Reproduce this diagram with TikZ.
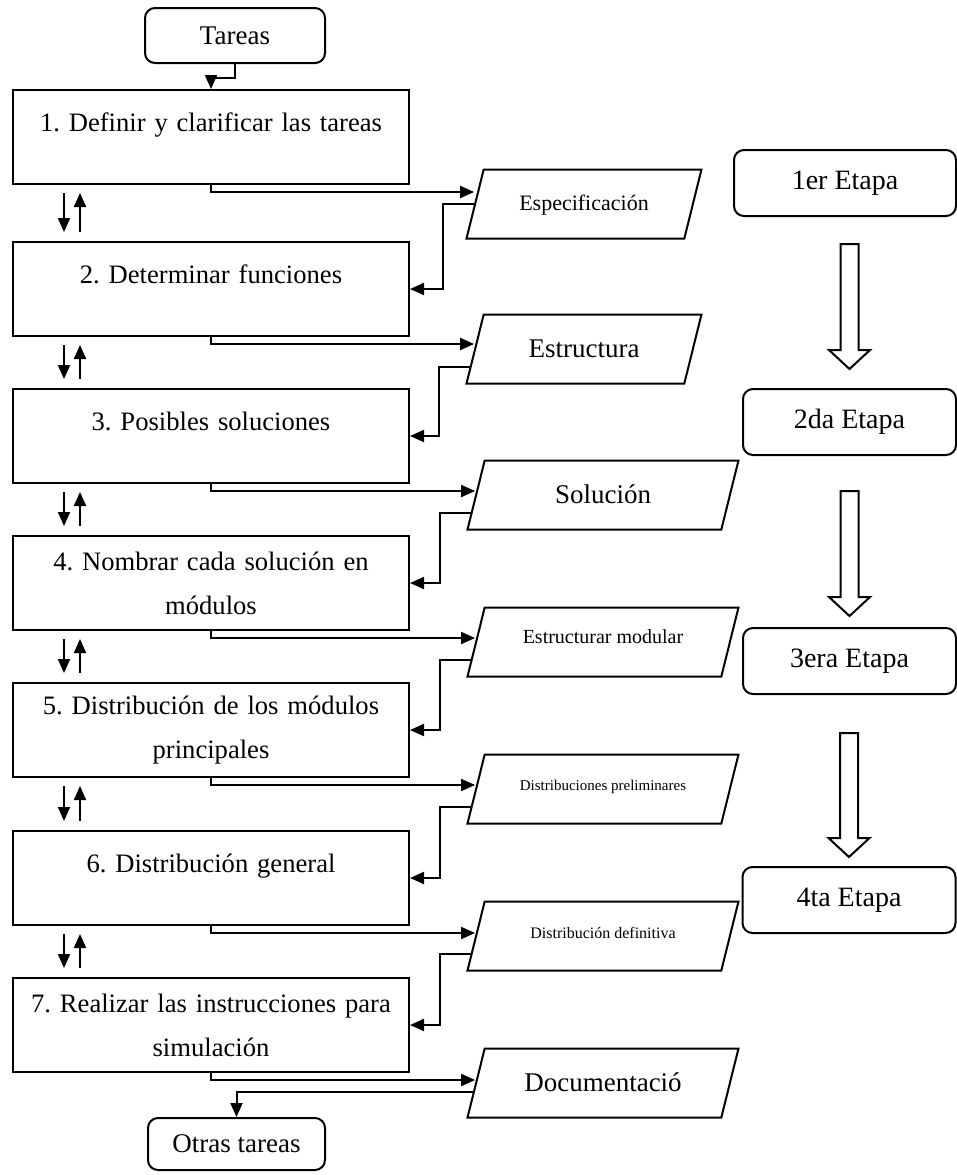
\documentclass[tikz,border=0pt]{standalone}
\usepackage{fontspec}
\setmainfont{Liberation Serif}
\usepackage{tikz}
\usetikzlibrary{shapes.geometric,arrows.meta,calc}
\frenchspacing

\begin{document}
\begin{tikzpicture}[x=0.5pt, y=-0.5pt,
    box/.style={rectangle, draw, line width=1pt, minimum width=198pt, minimum height=47pt, text width=190pt, align=center, inner sep=0pt, font=\fontsize{13.3}{22}\selectfont},
    para/.style={trapezium, draw, line width=1pt, trapezium left angle=76, trapezium right angle=104, trapezium stretches body, inner xsep=2pt, inner ysep=0pt, text height=21.5pt, text depth=13pt},
    stage/.style={rectangle, draw, line width=1pt, rounded corners=5pt, minimum width=106.5pt, minimum height=33pt, font=\fontsize{14}{16}\selectfont},
    term/.style={rectangle, draw, line width=1pt, rounded corners=5pt, minimum height=27.5pt, font=\fontsize{13.5}{16}\selectfont},
    arr/.style={line width=1pt, -{Triangle[length=7pt,width=6pt]}},
    hollow/.style={draw, line width=1pt, line join=miter}]
    \useasboundingbox (0,0) rectangle (957,1175);

    % Start and end
    \node[term, minimum width=90pt] (tareas) at (235,35.5) {Tareas};
    \node[term, minimum width=88.5pt, minimum height=26pt] (otras) at (236.5,1144) {Otras tareas};

    % Tasks
    \node[box] (t1) at (211,137) {1. Definir y clarificar las tareas\\[-7pt]\mbox{}};
    \node[box] (t2) at (211,289) {2. Determinar funciones\\[-7pt]\mbox{}};
    \node[box] (t3) at (211,436) {3. Posibles soluciones\\[-7pt]\mbox{}};
    \node[box] (t4) at (211,583) {4. Nombrar cada solución en\\módulos};
    \node[box] (t5) at (211,730) {5. Distribución de los módulos\\principales};
    \node[box] (t6) at (211,878) {6. Distribución general\\[-7pt]\mbox{}};
    \node[box] (t7) at (211,1025) {7. Realizar las instrucciones para\\simulación};

    % Results
    \node[para, minimum width=117.5pt, text height=20.5pt, text depth=14pt, font=\fontsize{11}{13}\selectfont] (r1) at (584,204) {Especificación};
    \node[para, minimum width=117.5pt, font=\fontsize{13.5}{16}\selectfont] (r2) at (584,349) {Estructura};
    \node[para, minimum width=135.5pt, font=\fontsize{13.5}{16}\selectfont] (r3) at (603,495) {Solución};
    \node[para, minimum width=135.5pt, text height=18pt, text depth=16.5pt, font=\fontsize{10}{12}\selectfont] (r4) at (603,642) {Estructurar modular};
    \node[para, minimum width=135.5pt, text height=18pt, text depth=16.5pt, font=\fontsize{7.5}{9}\selectfont] (r5) at (603,789) {Distribuciones preliminares};
    \node[para, minimum width=135.5pt, text height=18.5pt, text depth=16pt, font=\fontsize{8}{10}\selectfont] (r6) at (603,936) {Distribución definitiva};
    \node[para, minimum width=135.5pt, font=\fontsize{13.5}{16}\selectfont] (r7) at (603,1083) {Documentació};

    % Stages
    \node[stage, minimum width=111pt] (s1) at (845,183) {1er Etapa};
    \node[stage] (s2) at (849.5,422) {2da Etapa};
    \node[stage] (s3) at (849.5,661) {3era Etapa};
    \node[stage] (s4) at (849,900) {4ta Etapa};

    % Task to result
    \draw[arr] (tareas.south) -- ++(0,14) -| (t1.north);
    \draw[arr] (t1.south) |- ($(r1.west |- t1.south)+(0,7)$);
    \draw[arr] (t2.south) |- ($(r2.west |- t2.south)+(0,7)$);
    \draw[arr] (t3.south) |- ($(r3.west |- t3.south)+(0,7)$);
    \draw[arr] (t4.south) |- ($(r4.west |- t4.south)+(0,7)$);
    \draw[arr] (t5.south) |- ($(r5.west |- t5.south)+(0,7)$);
    \draw[arr] (t6.south) |- ($(r6.west |- t6.south)+(0,7)$);
    \draw[arr] (t7.south) |- ($(r7.west |- t7.south)+(0,7)$);

    % Result back to next task
    \draw[arr] ($(r1.bottom left corner)!0.5!(r1.top left corner)$) -- ++(-31,0) |- (t2.east);
    \draw[arr] ($(r2.bottom left corner)!0.25!(r2.top left corner)$) -- ++(-31,0) |- (t3.east);
    \draw[arr] ($(r3.bottom left corner)!0.25!(r3.top left corner)$) -- ++(-31,0) |- (t4.east);
    \draw[arr] ($(r4.bottom left corner)!0.25!(r4.top left corner)$) -- ++(-31,0) |- (t5.east);
    \draw[arr] ($(r5.bottom left corner)!0.25!(r5.top left corner)$) -- ++(-31,0) |- (t6.east);
    \draw[arr] ($(r6.bottom left corner)!0.25!(r6.top left corner)$) -- ++(-31,0) |- (t7.east);
    \draw[arr] ($(r7.bottom left corner)!0.37!(r7.top left corner)$) -| (otras.north);

    % Back and forth between tasks
    \draw[arr, shorten <=4pt, shorten >=4.5pt] ([xshift=26pt]t1.south west) -- ([xshift=26pt]t2.north west);
    \draw[arr, shorten <=4.5pt, shorten >=4pt] ([xshift=34pt]t2.north west) -- ([xshift=34pt]t1.south west);
    \draw[arr, shorten <=4pt, shorten >=4.5pt] ([xshift=26pt]t2.south west) -- ([xshift=26pt]t3.north west);
    \draw[arr, shorten <=4.5pt, shorten >=4pt] ([xshift=34pt]t3.north west) -- ([xshift=34pt]t2.south west);
    \draw[arr, shorten <=4pt, shorten >=4.5pt] ([xshift=26pt]t3.south west) -- ([xshift=26pt]t4.north west);
    \draw[arr, shorten <=4.5pt, shorten >=4pt] ([xshift=34pt]t4.north west) -- ([xshift=34pt]t3.south west);
    \draw[arr, shorten <=4pt, shorten >=4.5pt] ([xshift=26pt]t4.south west) -- ([xshift=26pt]t5.north west);
    \draw[arr, shorten <=4.5pt, shorten >=4pt] ([xshift=34pt]t5.north west) -- ([xshift=34pt]t4.south west);
    \draw[arr, shorten <=4pt, shorten >=4.5pt] ([xshift=26pt]t5.south west) -- ([xshift=26pt]t6.north west);
    \draw[arr, shorten <=4.5pt, shorten >=4pt] ([xshift=34pt]t6.north west) -- ([xshift=34pt]t5.south west);
    \draw[arr, shorten <=4pt, shorten >=4.5pt] ([xshift=26pt]t6.south west) -- ([xshift=26pt]t7.north west);
    \draw[arr, shorten <=4.5pt, shorten >=4pt] ([xshift=34pt]t7.north west) -- ([xshift=34pt]t6.south west);

    % Stage arrows
    \draw[hollow] let \p1=(s1.south), \p2=(s2.north) in
        (\x2-4.5pt,\y1-13.5pt) -- (\x2+4.5pt,\y1-13.5pt) -- (\x2+4.5pt,\y2+19pt) -- (\x2+10.25pt,\y2+19pt)
        -- (\x2,\y2+9.5pt) -- (\x2-10.25pt,\y2+19pt) -- (\x2-4.5pt,\y2+19pt) -- cycle;
    \draw[hollow] let \p1=(s2.south), \p2=(s3.north) in
        (\x2-4.5pt,\y1-17.5pt) -- (\x2+4.5pt,\y1-17.5pt) -- (\x2+4.5pt,\y2+15pt) -- (\x2+10.25pt,\y2+15pt)
        -- (\x2,\y2+5.5pt) -- (\x2-10.25pt,\y2+15pt) -- (\x2-4.5pt,\y2+15pt) -- cycle;
    \draw[hollow] let \p1=(s3.south), \p2=(s4.north) in
        (\x2-4.5pt,\y1-19pt) -- (\x2+4.5pt,\y1-19pt) -- (\x2+4.5pt,\y2+14pt) -- (\x2+10.25pt,\y2+14pt)
        -- (\x2,\y2+4.5pt) -- (\x2-10.25pt,\y2+14pt) -- (\x2-4.5pt,\y2+14pt) -- cycle;
\end{tikzpicture}
\end{document}
